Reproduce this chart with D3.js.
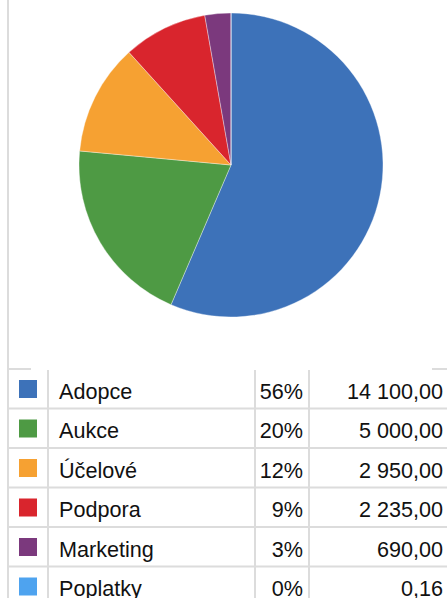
<!DOCTYPE html>
<html><head><meta charset="utf-8">
<script src="https://cdn.jsdelivr.net/npm/d3@7"></script>
<style>html,body{margin:0;padding:0;background:#fff;overflow:hidden}</style>
</head><body>
<svg id="c" width="447" height="598"></svg>
<script>
const categories = ["Adopce","Aukce","Účelové","Podpora","Marketing","Poplatky"];
const values = [14100, 5000, 2950, 2235, 690, 0.16];
const percentLabels = ["56%","20%","12%","9%","3%","0%"];
const valueLabels = ["14 100,00","5 000,00","2 950,00","2 235,00","690,00","0,16"];
const colors = ["#3d72b9","#4e9a44","#f6a132","#d9252d","#7b397d","#4ea3ef"];

(function(){
const svg = d3.select("#c");
const W = 447, H = 598;
const grid = "#dcdcdc";

// pie
const cx = 231, cy = 165, R = 152;
const pie = d3.pie().sort(null).value(d => d)(values);
const arc = d3.arc().innerRadius(0).outerRadius(R);
const g = svg.append("g").attr("transform", `translate(${cx},${cy})`);
g.selectAll("path").data(pie).join("path")
  .attr("d", arc)
  .attr("fill", (d,i) => colors[i])
  .attr("stroke", "#fff").attr("stroke-width", 0.6).attr("stroke-opacity", 0.6);

// table
const tTop = 369, rowH = 39.5;
const y = d3.scaleBand().domain(categories).range([tTop, tTop + rowH*categories.length]);
const colX = {left: 8, sw: 48, pct: 255, val: 309};

svg.append("line").attr("x1", 8).attr("x2", 8).attr("y1", 0).attr("y2", H)
  .attr("stroke", grid).attr("stroke-width", 2);
svg.append("line").attr("x1", 8).attr("x2", 31).attr("y1", tTop).attr("y2", tTop)
  .attr("stroke", grid).attr("stroke-width", 2);
svg.append("line").attr("x1", 432).attr("x2", W).attr("y1", tTop).attr("y2", tTop)
  .attr("stroke", grid).attr("stroke-width", 2);

categories.slice(1).forEach(c => {
  svg.append("line").attr("x1", 8).attr("x2", W)
    .attr("y1", y(c)).attr("y2", y(c))
    .attr("stroke", grid).attr("stroke-width", 2);
});
[colX.sw, colX.pct, colX.val].forEach(x => {
  svg.append("line").attr("x1", x).attr("x2", x)
    .attr("y1", tTop + 1).attr("y2", H)
    .attr("stroke", grid).attr("stroke-width", 2);
});

const rows = svg.selectAll("g.row").data(categories).join("g")
  .attr("class", "row").attr("transform", d => `translate(0,${y(d)})`);
rows.append("rect").attr("x", 19).attr("y", 11).attr("width", 18).attr("height", 18)
  .attr("fill", (d,i) => colors[i]);
const font = "'Liberation Sans', Arial, sans-serif";
const fs = 21.6;
rows.append("text").attr("x", 59).attr("y", 29.5).text(d => d)
  .attr("font-family", font).attr("font-size", fs).attr("fill", "#111");
rows.append("text").attr("x", 303).attr("y", 29.5).attr("text-anchor", "end")
  .text((d,i) => percentLabels[i])
  .attr("font-family", font).attr("font-size", fs).attr("fill", "#111");
rows.append("text").attr("x", 443).attr("y", 29.5).attr("text-anchor", "end")
  .text((d,i) => valueLabels[i])
  .attr("font-family", font).attr("font-size", fs).attr("fill", "#111");
})();
</script>
</body></html>
